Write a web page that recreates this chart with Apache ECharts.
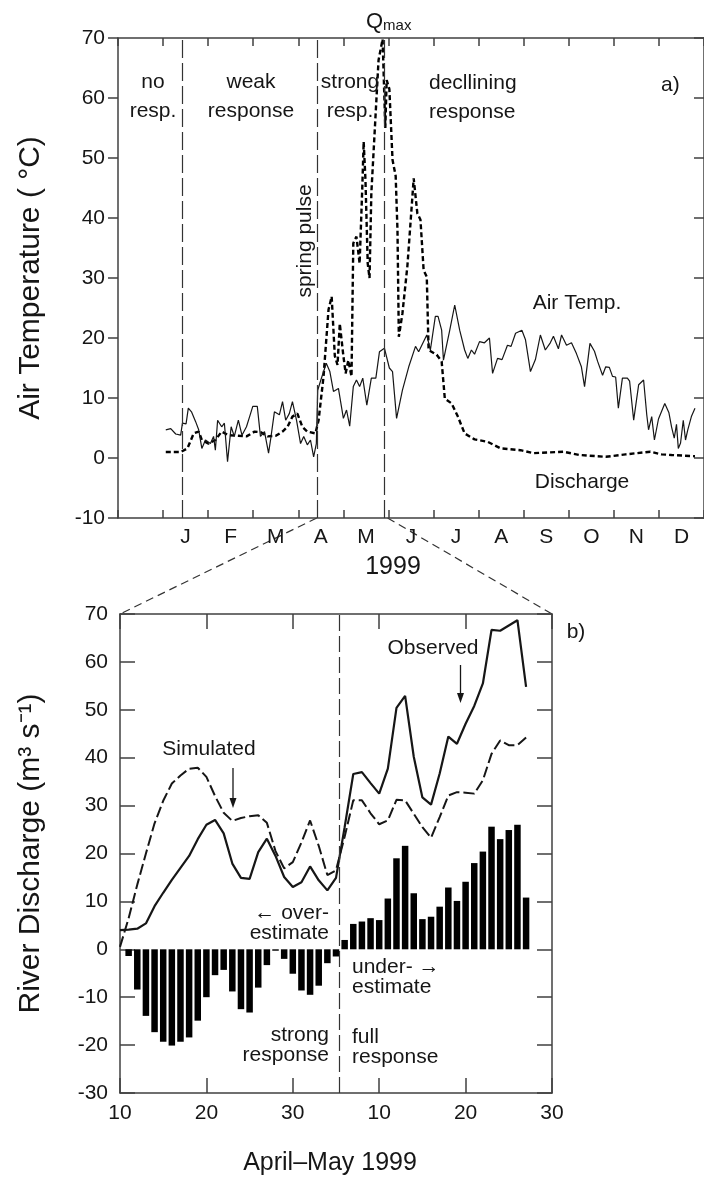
<!DOCTYPE html>
<html>
<head>
<meta charset="utf-8">
<script src="https://cdn.jsdelivr.net/npm/echarts@6/dist/echarts.min.js"></script>
<style>
html, body { margin: 0; padding: 0; background: #fff; }
#main { width: 704px; height: 1179px; }
</style>
</head>
<body>
<div id="main"></div>
<script>
// panel a) month axis, first slot is Dec 1998 (no label)
var monthLabels = ['', 'J', 'F', 'M', 'A', 'M', 'J', 'J', 'A', 'S', 'O', 'N', 'D'];

// [months since 1 Dec 1998, deg C]
var airTemp = [[1.06,4.7],[1.17,4.9],[1.28,4.0],[1.39,3.8],[1.43,5.8],[1.51,5.7],[1.56,8.3],[1.63,7.7],[1.72,6.1],[1.79,4.7],
  [1.86,1.6],[1.94,3.0],[2.05,2.4],[2.12,3.6],[2.16,1.3],[2.21,6.3],[2.30,5.2],[2.36,5.8],[2.43,-0.6],[2.51,5.2],
  [2.58,3.6],[2.67,6.3],[2.75,3.8],[2.85,5.2],[2.92,6.9],[2.99,8.6],[3.09,8.6],[3.16,3.6],[3.25,4.4],[3.34,0.8],
  [3.39,3.3],[3.47,7.7],[3.58,7.2],[3.65,9.4],[3.72,6.3],[3.80,7.4],[3.87,9.4],[3.96,6.3],[4.05,2.4],[4.12,3.6],
  [4.20,2.2],[4.27,3.0],[4.34,0.2],[4.40,2.4],[4.43,11.3],[4.50,13.0],[4.62,15.8],[4.70,14.4],[4.78,11.1],[4.89,11.6],
  [5.00,6.6],[5.07,8.0],[5.14,5.3],[5.22,11.9],[5.29,13.0],[5.36,11.9],[5.43,13.3],[5.52,8.8],[5.62,13.3],[5.72,13.3],
  [5.80,17.7],[5.91,18.3],[6.02,15.0],[6.09,14.4],[6.18,6.6],[6.31,11.3],[6.45,15.2],[6.60,18.6],[6.67,17.7],[6.85,20.5],
  [6.93,18.0],[7.04,23.6],[7.10,23.6],[7.18,21.3],[7.22,16.3],[7.36,21.3],[7.47,25.5],[7.58,21.3],[7.69,18.0],[7.76,16.6],
  [7.84,18.0],[7.91,17.3],[8.02,19.4],[8.13,19.2],[8.24,20.0],[8.31,14.1],[8.42,16.6],[8.52,16.4],[8.64,18.8],[8.72,18.6],
  [8.82,20.8],[8.96,21.3],[9.04,19.7],[9.15,14.4],[9.26,16.4],[9.37,20.5],[9.48,18.0],[9.59,19.2],[9.66,20.3],[9.77,18.2],
  [9.84,20.5],[9.95,18.8],[10.06,19.2],[10.17,17.4],[10.28,15.2],[10.35,11.9],[10.47,19.1],[10.57,17.8],[10.64,16.1],[10.75,13.8],
  [10.82,15.2],[10.90,15.1],[10.97,13.6],[11.04,13.5],[11.10,8.3],[11.19,13.3],[11.30,13.3],[11.35,12.8],[11.44,6.3],[11.55,12.2],
  [11.66,13.0],[11.73,7.2],[11.77,4.7],[11.84,6.9],[11.90,3.0],[11.99,6.5],[12.13,9.1],[12.22,7.6],[12.28,5.2],[12.34,3.3],
  [12.39,5.6],[12.43,1.6],[12.48,2.5],[12.54,6.3],[12.59,3.0],[12.64,4.7],[12.72,6.9],[12.80,8.3]];

// [months since 1 Dec 1998, m3/s]
var discharge = [[1.06,1.0],[1.39,1.0],[1.54,1.6],[1.68,4.1],[1.79,4.4],[1.86,3.0],[2.01,2.4],[2.16,3.0],[2.30,4.4],[2.45,3.8],
  [2.67,3.7],[2.85,3.6],[3.03,4.4],[3.17,4.3],[3.32,3.6],[3.50,3.7],[3.65,4.4],[3.76,5.2],[3.87,6.9],[3.98,7.4],
  [4.09,5.2],[4.20,4.4],[4.38,4.1],[4.45,6.3],[4.56,13.6],[4.67,24.7],[4.74,26.9],[4.81,17.0],[4.87,15.5],[4.92,22.4],
  [5.00,17.0],[5.05,14.1],[5.11,16.3],[5.18,13.6],[5.22,35.8],[5.29,36.9],[5.36,32.4],[5.42,45.2],[5.45,52.7],[5.49,46.3],
  [5.54,32.4],[5.58,30.0],[5.62,44.1],[5.78,66.3],[5.87,69.8],[5.93,55.0],[5.96,63.0],[6.02,61.5],[6.09,49.7],[6.16,47.0],
  [6.20,38.0],[6.23,20.2],[6.31,24.1],[6.42,32.0],[6.56,46.6],[6.64,40.8],[6.71,39.7],[6.78,31.3],[6.85,30.2],[6.89,18.0],
  [7.07,17.2],[7.18,16.1],[7.25,9.9],[7.40,9.1],[7.54,6.9],[7.69,4.1],[7.91,3.1],[8.20,2.7],[8.49,1.6],[8.93,1.3],
  [9.22,0.8],[9.88,1.05],[10.24,0.5],[10.82,0.2],[11.26,0.6],[11.81,1.05],[12.06,0.6],[12.28,0.5],[12.80,0.3]];

// no resp. | weak | strong | declining
var phaseBounds = [1.42, 4.41, 5.90];
// span of panel a) blown up in panel b)
var zoomSpan = [4.41, 5.98];

// panel b) days counted from 1 April (31 = 1 May)
var obsDays = [10,11,12,13,14,15,16,17,18,19,20,21,22,23,24,25,26,27,28,29,30,31,32,33,
  34,35,36,37,38,39,40,41,42,43,44,45,46,47,48,49,50,51,52,53,54,55,56,57];
var observed = [4.0,4.1,4.3,5.4,9.0,11.8,14.5,17.0,19.5,23.0,26.0,27.0,24.2,17.9,14.9,14.7,20.3,23.1,19.5,15.1,13.0,14.0,17.3,14.4,
  12.3,14.9,25.5,36.6,37.0,34.7,32.5,37.7,50.4,52.9,40.2,31.7,30.2,36.7,44.4,42.9,47.1,50.8,55.5,66.7,66.5,67.6,68.7,54.8];
var simulated = [0.5,6.5,13.5,20.0,26.3,31.0,34.6,36.3,37.7,37.9,36.0,32.0,28.5,26.8,27.4,27.8,28.0,26.4,20.5,16.9,18.2,22.3,26.9,21.6,
  15.5,16.5,23.5,31.1,31.1,28.4,26.1,26.9,31.2,31.1,28.3,25.5,23.3,27.6,32.1,32.8,32.7,32.5,35.3,40.8,43.6,42.6,42.6,44.2];
var diffDays = [11,12,13,14,15,16,17,18,19,20,21,22,23,24,25,26,27,28,29,30,31,32,33,34,
  35,36,37,38,39,40,41,42,43,44,45,46,47,48,49,50,51,52,53,54,55,56,57];
var difference = [-1.4,-8.4,-13.9,-17.3,-19.3,-20.1,-19.3,-18.4,-14.9,-10.0,-5.4,-4.3,-8.8,-12.5,-13.2,-8.0,-3.3,-0.3,-2.0,-5.1,-8.6,-9.5,-7.6,-2.9,
  -1.5,1.95,5.3,5.8,6.5,6.1,10.6,19.0,21.6,11.7,6.3,6.8,8.9,12.9,10.1,14.1,18.0,20.4,25.6,23.0,24.9,26.0,10.8];
var splitDay = 35.4;

var font = 'Liberation Sans, Arial, Helvetica, sans-serif';
var ink = '#161616';
var axisCol = '#404040';

function pairs(xs, ys) {
  return xs.map(function (x, i) { return [x, ys[i]]; });
}

function frame(o) {
  var base = {
    axisLine: { show: true, onZero: false, lineStyle: { color: axisCol, width: 1.5 } },
    axisTick: { show: true, inside: true, length: 8, lineStyle: { color: axisCol, width: 1.5 } },
    axisLabel: { show: false, color: ink, fontSize: 21, fontFamily: font },
    splitLine: { show: false }
  };
  for (var k in o) {
    if (typeof o[k] === 'object' && base[k] && !Array.isArray(o[k])) {
      base[k] = Object.assign({}, base[k], o[k]);
    } else {
      base[k] = o[k];
    }
  }
  return base;
}

var chart = echarts.init(document.getElementById('main'));

var option = {
  animation: false,
  backgroundColor: '#fff',
  textStyle: { fontFamily: font },
  grid: [
    { left: 118, top: 38, width: 595, height: 480 },
    { left: 120, top: 614, width: 432, height: 479 }
  ],
  xAxis: [
    frame({ gridIndex: 0, type: 'category', data: monthLabels, boundaryGap: true, position: 'bottom',
      axisTick: { interval: 0 },
      axisLabel: { show: true, interval: 0, margin: 9, fontSize: 21 } }),
    frame({ gridIndex: 0, type: 'value', min: 0, max: 13, interval: 1, position: 'top' }),
    frame({ gridIndex: 1, type: 'value', min: 10, max: 60, interval: 10, position: 'bottom',
      axisTick: { length: 15 },
      axisLabel: { show: true, margin: 10, fontSize: 21,
        formatter: function (v) { return v > 30 ? String(v - 30) : String(v); } } }),
    frame({ gridIndex: 1, type: 'value', min: 10, max: 60, interval: 10, position: 'top',
      axisTick: { length: 15 } })
  ],
  yAxis: [
    frame({ gridIndex: 0, type: 'value', min: -10, max: 70, interval: 10, position: 'left',
      axisTick: { inside: false, length: 10 },
      axisLabel: { show: true, margin: 13, fontSize: 21 },
      name: 'Air Temperature ( \u00b0C)', nameLocation: 'middle', nameGap: 72, nameRotate: 90,
      nameTextStyle: { fontSize: 30, color: ink, fontFamily: font } }),
    frame({ gridIndex: 0, type: 'value', min: -10, max: 70, interval: 10, position: 'right',
      axisTick: { length: 10 } }),
    frame({ gridIndex: 1, type: 'value', min: -30, max: 70, interval: 10, position: 'left',
      axisTick: { length: 15 },
      axisLabel: { show: true, margin: 12, fontSize: 21 },
      name: 'River Discharge (m\u00b3 s\u207b\u00b9)', nameLocation: 'middle', nameGap: 74, nameRotate: 90,
      nameTextStyle: { fontSize: 30, color: ink, fontFamily: font } }),
    frame({ gridIndex: 1, type: 'value', min: -30, max: 70, interval: 10, position: 'right',
      axisTick: { length: 15 } })
  ],
  series: [
    {
      name: 'Air Temp.', type: 'line', xAxisIndex: 1, yAxisIndex: 0,
      data: airTemp, symbol: 'none', z: 4,
      lineStyle: { color: ink, width: 1.2 },
      markLine: {
        silent: true, symbol: ['none', 'none'], label: { show: false },
        lineStyle: { color: '#333', width: 1.2, type: [18, 5] },
        data: phaseBounds.map(function (v) { return { xAxis: v }; })
      }
    },
    {
      name: 'Discharge', type: 'line', xAxisIndex: 1, yAxisIndex: 0,
      data: discharge, symbol: 'none', z: 3,
      lineStyle: { color: '#000', width: 2.4, type: [5, 3] }
    },
    {
      name: 'Difference', type: 'bar', xAxisIndex: 2, yAxisIndex: 2,
      data: pairs(diffDays, difference), barWidth: 6.5,
      itemStyle: { color: '#000' }
    },
    {
      name: 'Observed', type: 'line', xAxisIndex: 2, yAxisIndex: 2,
      data: pairs(obsDays, observed), symbol: 'none', z: 4,
      lineStyle: { color: ink, width: 2.2 },
      markLine: {
        silent: true, symbol: ['none', 'none'], label: { show: false },
        lineStyle: { color: '#333', width: 1.2, type: [16, 5] },
        data: [{ xAxis: splitDay }]
      }
    },
    {
      name: 'Simulated', type: 'line', xAxisIndex: 2, yAxisIndex: 2,
      data: pairs(obsDays, simulated), symbol: 'none', z: 4,
      lineStyle: { color: ink, width: 2, type: [11, 4] }
    }
  ]
};

chart.setOption(option);

function label(x, y, text, o) {
  o = o || {};
  return {
    type: 'text', x: x, y: y, rotation: o.rotation || 0, silent: true, z: 10,
    style: {
      text: text, fill: ink, fontSize: o.size || 21, fontFamily: font,
      align: o.align || 'center', verticalAlign: 'middle', lineHeight: o.lh || 24
    }
  };
}

function arrowDown(x, y1, y2) {
  return [
    { type: 'line', silent: true, shape: { x1: x, y1: y1, x2: x, y2: y2 - 6 }, style: { stroke: ink, lineWidth: 1.3 } },
    { type: 'polygon', silent: true, shape: { points: [[x - 3.5, y2 - 10], [x + 3.5, y2 - 10], [x, y2]] }, style: { fill: ink } }
  ];
}

// dashed guides from the April-May span of a) to the corners of b)
var topY = chart.convertToPixel({ yAxisIndex: 0 }, -10);
var botY = chart.convertToPixel({ yAxisIndex: 2 }, 70);
var guides = [
  [chart.convertToPixel({ xAxisIndex: 1 }, zoomSpan[0]), chart.convertToPixel({ xAxisIndex: 2 }, 10)],
  [chart.convertToPixel({ xAxisIndex: 1 }, zoomSpan[1]), chart.convertToPixel({ xAxisIndex: 2 }, 60)]
].map(function (g) {
  return { type: 'line', silent: true, shape: { x1: g[0], y1: topY, x2: g[1], y2: botY },
    style: { stroke: '#333', lineWidth: 1.2, lineDash: [8, 5] } };
});

var elements = [
  label(153, 97, 'no\nresp.', { lh: 29 }),
  label(251, 97, 'weak\nresponse', { lh: 29 }),
  label(350, 97, 'strong\nresp.', { lh: 29 }),
  label(429, 98, 'decllining\nresponse', { lh: 29, align: 'left' }),
  label(661, 85, 'a)', { align: 'left' }),
  label(305, 241, 'spring pulse', { rotation: Math.PI / 2 }),
  label(577, 303, 'Air Temp.'),
  label(582, 482, 'Discharge'),
  label(393, 567, '1999', { size: 25 }),
  {
    type: 'text', x: 366, y: 22, silent: true, z: 10,
    style: {
      text: '{q|Q}{s|max}', align: 'left', verticalAlign: 'middle',
      rich: {
        q: { fontSize: 22, fontFamily: font, fill: ink },
        s: { fontSize: 15, fontFamily: font, fill: ink, verticalAlign: 'bottom' }
      }
    }
  },
  label(576, 632, 'b)'),
  label(209, 749, 'Simulated'),
  label(433, 648, 'Observed'),
  label(329, 923, '\u2190 over-\nestimate', { align: 'right', lh: 20 }),
  label(352, 977, 'under- \u2192\nestimate', { align: 'left', lh: 20 }),
  label(329, 1045, 'strong\nresponse', { align: 'right', lh: 20 }),
  label(352, 1047, 'full\nresponse', { align: 'left', lh: 20 }),
  label(330, 1163, 'April\u2013May 1999', { size: 25 })
].concat(arrowDown(233, 768, 808), arrowDown(460.5, 665, 703), guides);

chart.setOption({ graphic: { elements: elements } });
</script>
</body>
</html>
